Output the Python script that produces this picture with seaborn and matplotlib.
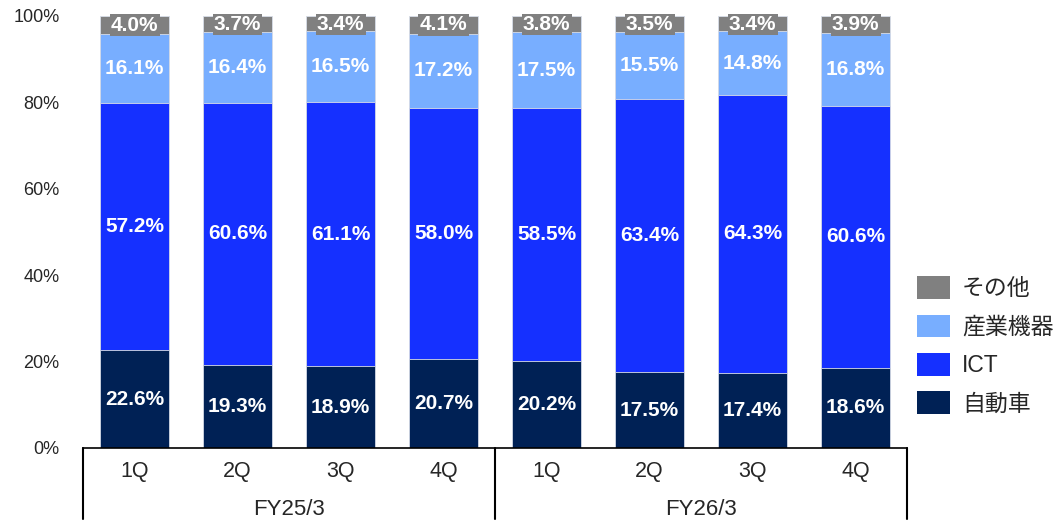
import numpy as np
import pandas as pd
import seaborn as sns
import matplotlib.pyplot as plt
from matplotlib.patches import Patch

quarters = ["1Q", "2Q", "3Q", "4Q", "1Q", "2Q", "3Q", "4Q"]
years = ["FY25/3", "FY26/3"]
auto = [22.6, 19.3, 18.9, 20.7, 20.2, 17.5, 17.4, 18.6]
ict = [57.2, 60.6, 61.1, 58.0, 58.5, 63.4, 64.3, 60.6]
industrial = [16.1, 16.4, 16.5, 17.2, 17.5, 15.5, 14.8, 16.8]
other = [4.0, 3.7, 3.4, 4.1, 3.8, 3.5, 3.4, 3.9]

series_names = ["自動車", "ICT", "産業機器", "その他"]
colors = ["#002155", "#1530ff", "#78aeff", "#808080"]

sns.set_style("white")
plt.rcParams['font.family'] = ['Liberation Sans', 'Noto Sans CJK JP', 'DejaVu Sans']

df = pd.DataFrame({"pos": [f"{i}" for i in range(8)], "自動車": auto, "ICT": ict,
                   "産業機器": industrial, "その他": other})
cum = df[series_names].cumsum(axis=1)

fig = plt.figure(figsize=(10.61, 5.24), dpi=100)
ax = fig.add_axes([83 / 1061, 76 / 524, 824 / 1061, 432 / 524])

# draw cumulative totals from the top series down so they stack
for name, col in reversed(list(zip(series_names, colors))):
    sns.barplot(x=df["pos"], y=cum[name], color=col, width=0.67, ax=ax,
                edgecolor="#d8dde8", linewidth=0.6, saturation=1)

# labels
for i in range(8):
    bottom = 0
    for name in series_names:
        v = df[name][i]
        y = bottom + v / 2
        if name == "その他":
            ax.text(i, min(y, 98.0), f"{v:.1f}%", ha="center", va="center", color="white",
                    fontsize=15, fontweight="bold",
                    bbox=dict(boxstyle="square,pad=0.06", fc="#808080", ec="none"))
        else:
            ax.text(i, y, f"{v:.1f}%", ha="center", va="center", color="white",
                    fontsize=15, fontweight="bold")
        bottom += v

ax.set_xlim(-0.5, 7.5)
ax.set_ylim(0, 100)
ax.set_yticks([0, 20, 40, 60, 80, 100])
ax.set_yticklabels([f"{t}%" for t in [0, 20, 40, 60, 80, 100]], fontsize=13)
ax.set_xticks(range(8))
ax.set_xticklabels(quarters, fontsize=15.5)
ax.tick_params(axis="x", length=0, pad=9)
ax.tick_params(axis="y", length=0, pad=17)
ax.set_xlabel("")
ax.set_ylabel("")
for s in ["top", "right", "left"]:
    ax.spines[s].set_visible(False)
ax.spines["bottom"].set_color("black")
ax.spines["bottom"].set_linewidth(1.2)

# group separators and year labels
for xs in [-0.5, 3.5, 7.5]:
    ax.plot([xs, xs], [0, -16.5], color="black", lw=1.5, clip_on=False)
for j, yr in enumerate(years):
    ax.text(1.5 + 4 * j, -14.3, yr, ha="center", va="center", fontsize=16)

handles = [Patch(fc=c, ec="none") for c in colors][::-1]
fig.legend(handles, series_names[::-1], loc="center left", bbox_to_anchor=(0.856, 0.34),
           frameon=False, fontsize=16.5, handlelength=1.43, handleheight=1.13,
           labelspacing=0.63, handletextpad=0.52, borderaxespad=0)

fig.savefig("out.png", dpi=100)
